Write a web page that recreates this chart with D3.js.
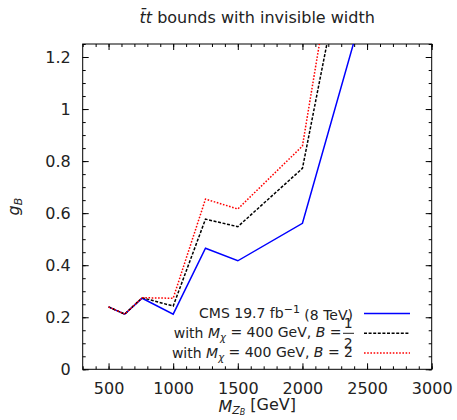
<!DOCTYPE html>
<html>
<head>
<meta charset="utf-8">
<script src="https://cdn.jsdelivr.net/npm/d3@7"></script>
<style>
  body { margin: 0; background: #fff; }
  svg text { font-family: "DejaVu Sans", sans-serif; fill: #222; }
  .axis path { stroke: #000; }
  .axis line { stroke: #000; }
</style>
</head>
<body>
<script>
// values
var masses = [500, 625, 760, 1000, 1250, 1500, 2000, 3000];
var cmsLimit = [0.240, 0.212, 0.273, 0.212, 0.465, 0.417, 0.561, 2.31];
var halfBLimit = [0.240, 0.212, 0.275, 0.243, 0.577, 0.548, 0.772, 3.30];
var twoBLimit = [0.240, 0.212, 0.275, 0.273, 0.654, 0.616, 0.858, 3.85];
var xTicks = [500, 1000, 1500, 2000, 2500, 3000];
var yTicks = [0, 0.2, 0.4, 0.6, 0.8, 1, 1.2];

var width = 457, height = 420;
var margin = {top: 44, right: 25.3, bottom: 50.7, left: 82.7};
var w = width - margin.left - margin.right,
    h = height - margin.top - margin.bottom;

var x = d3.scaleLinear().domain([300, 3000]).range([0, w]);
var y = d3.scaleLinear().domain([0, 1.25]).range([h, 0]);

var svg = d3.select('body').append('svg')
  .attr('width', width)
  .attr('height', height);

var main = svg.append('g')
  .attr('transform', 'translate(' + margin.left + ',' + margin.top + ')');

main.append('clipPath').attr('id', 'clip')
  .append('rect').attr('width', w).attr('height', h);

// minor ticks every 100 GeV / 0.05
var xMinor = d3.range(300, 3001, 100);
var yMinor = d3.range(0, 1.251, 0.05);

function fmtY(d) { return d === 0 ? '0' : String(+d.toFixed(1)); }

main.append('g').attr('class', 'axis')
  .attr('transform', 'translate(0,' + h + ')')
  .call(d3.axisBottom(x).tickValues(xMinor).tickSize(-3).tickFormat('').tickSizeOuter(0));
main.append('g').attr('class', 'axis')
  .attr('transform', 'translate(0,' + h + ')')
  .call(d3.axisBottom(x).tickValues(xTicks).tickSize(-6).tickSizeOuter(0).tickPadding(13)
    .tickFormat(function(d) { return String(d); }))
  .selectAll('text').style('font-size', '16px');
main.append('g').attr('class', 'axis')
  .call(d3.axisTop(x).tickValues(xMinor).tickSize(-3).tickFormat('').tickSizeOuter(0));
main.append('g').attr('class', 'axis')
  .call(d3.axisTop(x).tickValues(xTicks).tickSize(-6).tickFormat('').tickSizeOuter(0));

main.append('g').attr('class', 'axis')
  .call(d3.axisLeft(y).tickValues(yMinor).tickSize(-3).tickFormat('').tickSizeOuter(0));
main.append('g').attr('class', 'axis')
  .call(d3.axisLeft(y).tickValues(yTicks).tickSize(-6).tickSizeOuter(0).tickPadding(12).tickFormat(fmtY))
  .selectAll('text').style('font-size', '16px');
main.append('g').attr('class', 'axis')
  .attr('transform', 'translate(' + w + ',0)')
  .call(d3.axisRight(y).tickValues(yMinor).tickSize(-3).tickFormat('').tickSizeOuter(0));
main.append('g').attr('class', 'axis')
  .attr('transform', 'translate(' + w + ',0)')
  .call(d3.axisRight(y).tickValues(yTicks).tickSize(-6).tickFormat('').tickSizeOuter(0));

main.selectAll('.axis .domain').remove();
main.append('rect')
  .attr('width', w).attr('height', h)
  .attr('fill', 'none').attr('stroke', '#000').attr('stroke-width', 1);

var series = [
  {vals: cmsLimit, color: '#0000ff', dash: null},
  {vals: halfBLimit, color: '#000000', dash: '3,1.6'},
  {vals: twoBLimit, color: '#ff0000', dash: '1.6,1.6'}
];

var line = d3.line()
  .x(function(d) { return x(d[0]); })
  .y(function(d) { return y(d[1]); });

var lines = main.append('g').attr('clip-path', 'url(#clip)');
series.forEach(function(s) {
  lines.append('path')
    .datum(masses.map(function(m, i) { return [m, s.vals[i]]; }))
    .attr('d', line)
    .attr('fill', 'none')
    .attr('stroke', s.color)
    .attr('stroke-width', 1.5)
    .attr('stroke-dasharray', s.dash);
});

// legend
var rowY = [313.5, 333.3, 353];
var textEnd = 353;
var leg = svg.append('g').style('font-size', '14px');

var t1 = leg.append('text').attr('x', textEnd).attr('y', rowY[0]).attr('dy', '0.35em')
  .attr('text-anchor', 'end');
t1.append('tspan').text('CMS 19.7 fb');
t1.append('tspan').attr('dy', '-0.45em').style('font-size', '11px').text('\u22121');
t1.append('tspan').attr('dy', '0.45em').text(' (8 TeV)');

function mxText(row, endX) {
  var t = leg.append('text').attr('x', endX).attr('y', rowY[row]).attr('dy', '0.35em')
    .attr('text-anchor', 'end');
  t.append('tspan').text('with ');
  t.append('tspan').style('font-style', 'italic').text('M');
  t.append('tspan').attr('dy', '0.3em').style('font-style', 'italic').style('font-size', '10px').text('\u03c7');
  t.append('tspan').attr('dy', '-0.3em').text(' = 400 GeV, ');
  t.append('tspan').style('font-style', 'italic').text('B');
  t.append('tspan').text(' = ');
  return t;
}
mxText(1, 341.5);
leg.append('text').attr('x', 348.3).attr('y', rowY[1] - 10).attr('dy', '0.35em')
  .attr('text-anchor', 'middle').text('1');
leg.append('line').attr('x1', 343).attr('x2', 354).attr('y1', rowY[1]).attr('y2', rowY[1])
  .attr('stroke', '#222').attr('stroke-width', 1);
leg.append('text').attr('x', 348.3).attr('y', rowY[1] + 10).attr('dy', '0.35em')
  .attr('text-anchor', 'middle').text('2');

var t3 = mxText(2, textEnd);
t3.append('tspan').text('2');

series.forEach(function(s, i) {
  leg.append('line')
    .attr('x1', 364).attr('x2', 410)
    .attr('y1', rowY[i]).attr('y2', rowY[i])
    .attr('stroke', s.color).attr('stroke-width', 1.5)
    .attr('stroke-dasharray', s.dash);
});

// title
var title = svg.append('text')
  .attr('x', margin.left + w / 2).attr('y', 23)
  .attr('text-anchor', 'middle').style('font-size', '16px');
title.append('tspan').style('font-style', 'italic').text('t\u0304t');
title.append('tspan').text(' bounds with invisible width');

// axis labels
var xl = svg.append('text')
  .attr('x', margin.left + w / 2).attr('y', 412)
  .attr('text-anchor', 'middle').style('font-size', '16px');
xl.append('tspan').style('font-style', 'italic').text('M');
xl.append('tspan').attr('dy', '0.2em').style('font-style', 'italic').style('font-size', '11px').text('Z');
xl.append('tspan').attr('dy', '0.15em').style('font-style', 'italic').style('font-size', '8px').text('B');
xl.append('tspan').attr('dy', '-0.35em').text(' [GeV]');

var yl = svg.append('text')
  .attr('transform', 'translate(19,' + (margin.top + h / 2) + ') rotate(-90)')
  .attr('text-anchor', 'middle').style('font-size', '16px');
yl.append('tspan').style('font-style', 'italic').text('g');
yl.append('tspan').attr('dy', '0.3em').style('font-style', 'italic').style('font-size', '11px').text('B');
</script>
</body>
</html>
